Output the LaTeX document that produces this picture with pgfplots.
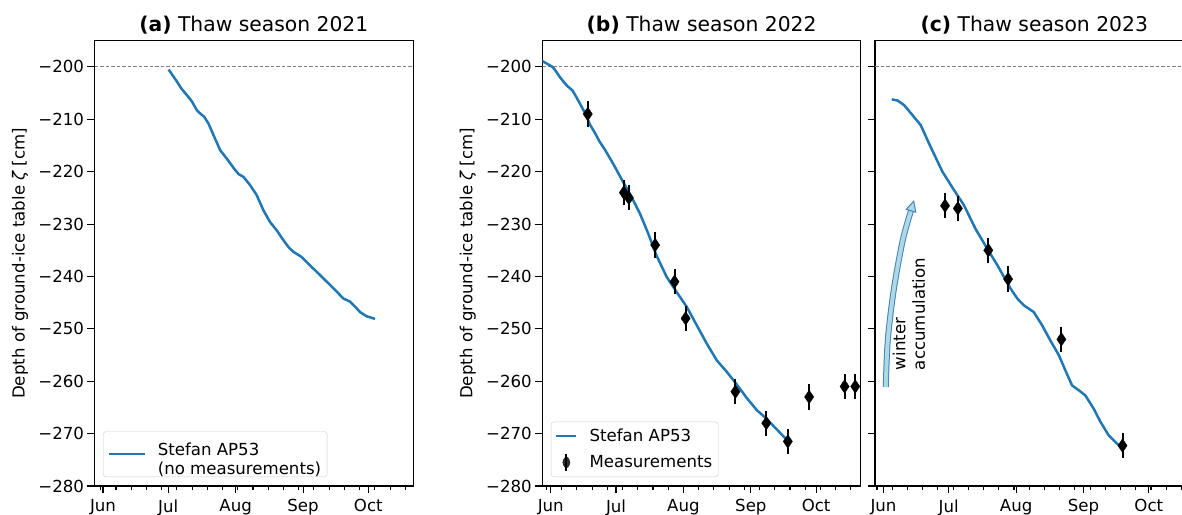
\documentclass[border=0pt]{standalone}
\usepackage{pgfplots}
\pgfplotsset{compat=1.18}
\usepackage{fontspec}
\setmainfont{DejaVu Sans}

\definecolor{mplblue}{HTML}{1F77B4}
\definecolor{arrowfill}{HTML}{ADD8E6}
\definecolor{arrowedge}{HTML}{4682B4}
\definecolor{legendedge}{HTML}{CCCCCC}

\newcommand{\ticksize}{\fontsize{16.6bp}{19.6bp}\selectfont}
\newcommand{\titlesize}{\fontsize{20.3bp}{24bp}\selectfont}

% x axis: days since 1 June of the season's year
\pgfplotsset{
  panel/.style={
    scale only axis, width=318.6bp, height=445.3bp,
    xmin=-3.9, xmax=142.6, ymin=-280, ymax=-195,
    xtick={0,30,61,92,122}, xticklabels={Jun,Jul,Aug,Sep,Oct},
    ytick={-280,-270,-260,-250,-240,-230,-220,-210,-200},
    tick align=outside, xtick pos=left, ytick pos=left,
    major tick length=7bp, minor tick length=4bp,
    every tick/.style={black, line width=1.1bp},
    every minor tick/.style={black, line width=1.1bp},
    axis line style={line width=1.1bp},
    tick label style={font=\ticksize},
    xticklabel style={yshift=-3bp},
    title style={font=\titlesize, anchor=base, at={(0.5,1)}, yshift=3bp},
    every axis y label/.style={at={(axis description cs:-0.2335,0.5)}, rotate=90, anchor=center, font=\ticksize},
    legend style={draw=legendedge, rounded corners=3bp, fill=white, fill opacity=0.8,
      text opacity=1, draw opacity=1, font=\ticksize, at={(0.027,0.02)}, anchor=south west,
      inner xsep=4bp},
    legend cell align=left,
  },
  ylabs/.style={yticklabels={−280,−270,−260,−250,−240,−230,−220,−210,−200},
    ylabel={Depth of ground-ice table {\itshape ζ} [cm]}},
  zeroline/.style={forget plot, color=gray, line width=1.1bp, dash pattern=on 3.5bp off 2bp},
  stefan/.style={color=mplblue, line width=2.5bp, line join=round},
  longline/.style={legend image code/.code={\draw[##1] (0bp,0bp) -- (36bp,0bp); \path (46bp,0bp);}},
  shortline/.style={legend image code/.code={\draw[##1] (0bp,0bp) -- (20bp,0bp); \path (30bp,0bp);}},
  errleg/.style={legend image code/.code={
    \draw[black, line width=2bp] (10bp,-8.5bp) -- (10bp,8.5bp);
    \fill[black] (10bp,7bp) -- (14.5bp,0bp) -- (10bp,-7bp) -- (5.5bp,0bp) -- cycle;
    \path (30bp,0bp);}},
  meas/.style={only marks, mark=diamond*, mark size=6.8bp, color=black,
    mark options={xscale=0.9, fill=black, line width=0.4bp},
    error bars/.cd, y dir=both, y explicit, error mark=none,
    error bar style={line width=2bp, black}, /pgfplots/.cd},
}

\begin{document}
\begin{tikzpicture}
\useasboundingbox (0,0) rectangle (1182bp,515bp);

% ---------------- (a) 2021 ----------------
\begin{axis}[panel, ylabs, at={(94.5bp,29bp)}, anchor=south west,
  title={\textbf{(a)} Thaw season 2021},
  minor xtick={-1,6,13,20,27,34,41,48,55,62,69,76,83,90,97,104,111,118,125,132,139},
  legend style={inner ysep=8bp},
]
\addplot[zeroline] coordinates {(-3.9,-200) (142.6,-200)};
\addplot[stefan, longline] coordinates {
(30.2,-200.5) (32,-201.6) (34,-202.8) (36,-204.1) (38.6,-205.4) (40.9,-206.6)
(43.2,-208.3) (45,-209.0) (46.5,-209.5) (48.5,-210.8) (50.8,-213.0) (53.9,-215.9)
(56.9,-217.5) (60.8,-219.7) (62.5,-220.5) (64.6,-221.0) (67.7,-222.6) (70.7,-224.5)
(73.8,-227.4) (76.8,-229.6) (79.9,-231.2) (83.0,-233.1) (85.5,-234.5) (87.6,-235.3)
(91.4,-236.3) (95.2,-237.9) (99.0,-239.4) (103.6,-241.3) (107.5,-242.9) (110.5,-244.2)
(113.6,-244.8) (116,-245.8) (118.2,-246.8) (121.2,-247.6) (125.1,-248.1)
};
\addlegendentry{\begin{tabular}{@{}l@{}}Stefan AP53\\(no measurements)\end{tabular}}
\end{axis}

% ---------------- (b) 2022 ----------------
\begin{axis}[panel, ylabs, at={(542.3bp,29bp)}, anchor=south west,
  title={\textbf{(b)} Thaw season 2022},
  minor xtick={-2,5,12,19,26,33,40,47,54,61,68,75,82,89,96,103,110,117,124,131,138},
  legend style={inner ysep=5bp, row sep=8bp},
]
\addplot[zeroline] coordinates {(-3.9,-200) (142.6,-200)};
\addplot[stefan, shortline] coordinates {
(-5,-198.6) (-3.8,-198.9) (0.8,-200.0) (2.5,-200.9) (4.1,-201.9) (6.4,-203.1) (8,-203.8)
(10,-204.5) (11.8,-205.8) (13.4,-207) (16,-209.0) (18,-211) (20.3,-212.6) (22.5,-214.3)
(24.9,-215.8) (28.7,-218.5) (33.3,-222) (37.1,-224.8) (41.0,-228.0) (44.8,-231.8)
(48.6,-236.0) (53.3,-240.1) (57.9,-243.0) (62.5,-245.8) (67.1,-249.3) (71.7,-252.8)
(76.3,-256.0) (80.9,-258.2) (85.5,-260.6) (90.1,-263.2) (94.7,-265.5) (99.3,-267.2)
(103.9,-269.2) (108.8,-271.3)
};
\addlegendentry{Stefan AP53}
\addplot[errleg, meas] table[x=d, y=z, y error=e] {
d     z      e
17.0  -209   2.4
33.6  -224   2.4
35.9  -225   2.4
48.0  -234   2.4
56.9  -241   2.4
62.0  -248   2.4
84.9  -262   2.4
99.1  -268   2.4
109.0 -271.5 2.4
118.8 -263   2.4
135.1 -261   2.4
140.0 -261   2.4
};
\addlegendentry{Measurements}
\end{axis}

% ---------------- (c) 2023 ----------------
\begin{axis}[panel, yticklabels={}, at={(875bp,29bp)}, anchor=south west,
  title={\textbf{(c)} Thaw season 2023},
  minor xtick={-3,4,11,18,25,32,39,46,53,60,67,74,81,88,95,102,109,116,123,130,137},
]
\addplot[zeroline] coordinates {(-3.9,-200) (142.6,-200)};
\addplot[stefan] coordinates {
(3.8,-206.2) (6.4,-206.4) (9.5,-207.3) (13.3,-209.2) (17.1,-211.1) (21.7,-215.3)
(27.1,-220.0) (32.4,-223.5) (37.0,-226.4) (42.3,-230.9) (47.7,-234.7) (52.3,-237.8)
(58.4,-242.3) (61.5,-244.2) (64.5,-245.5) (69.1,-246.8) (72.9,-249.3) (76.7,-252.2)
(80.6,-255.0) (83.6,-257.9) (86.7,-260.8) (89.7,-261.7) (92.8,-262.7) (96.6,-265.2)
(99.7,-267.7) (103.5,-270.3) (107.3,-271.9) (109.6,-272.5)
};
\addplot[meas] table[x=d, y=z, y error=e] {
d     z      e
28.3  -226.5 2.4
34.2  -227.0 2.4
48.2  -235.0 2.4
57.3  -240.5 2.4
81.8  -252.0 2.4
109.9 -272.3 2.4
};
% winter accumulation arrow
\draw[line width=6bp, color=arrowedge, line cap=butt]
  plot[smooth] coordinates {(axis cs:1.05,-261.1) (axis cs:1.97,-252.2) (axis cs:4.7,-242.6) (axis cs:8.85,-233.1) (axis cs:12.66,-227.46)};
\draw[line width=4bp, color=arrowfill, line cap=butt]
  plot[smooth] coordinates {(axis cs:1.05,-261.1) (axis cs:1.97,-252.2) (axis cs:4.7,-242.6) (axis cs:8.85,-233.1) (axis cs:12.66,-227.46)};
\filldraw[fill=arrowfill, draw=arrowedge, line width=1bp, line join=miter]
  (axis cs:13.9,-225.63) -- (axis cs:14.86,-227.73) -- (axis cs:10.46,-227.19) -- cycle;
\node[rotate=90, anchor=west, align=left, inner sep=0pt, font=\ticksize]
  at (axis cs:11.7,-257.9) {winter\\accumulation};
\end{axis}
\end{tikzpicture}
\end{document}
